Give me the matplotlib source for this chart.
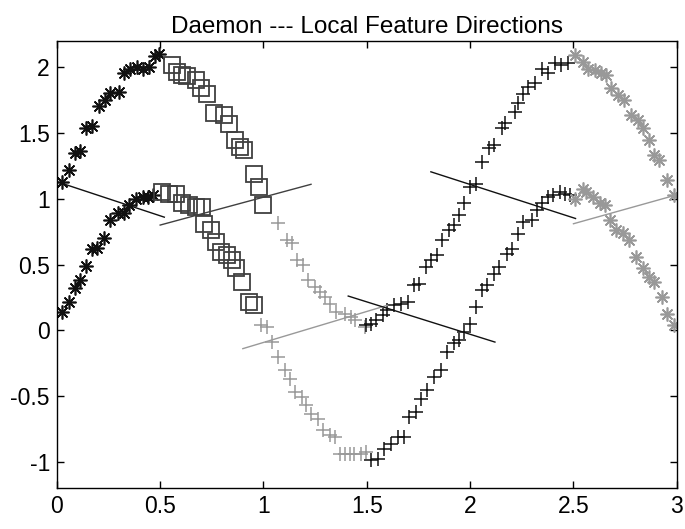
#!/usr/bin/env python3
"""Daemon --- local feature directions (two noisy sine sweeps, five segments)."""

import matplotlib
matplotlib.use("Agg")
import matplotlib.pyplot as plt

# ---- data ------------------------------------------------------------------
# segment 1: dark asterisks (0 .. 0.5)
seg1_x_up = [0.023, 0.058, 0.087, 0.114, 0.139, 0.170, 0.202, 0.231, 0.258, 0.300,
             0.327, 0.356, 0.386, 0.415, 0.444, 0.476, 0.492]
seg1_y_up = [1.13, 1.22, 1.345, 1.365, 1.54, 1.55, 1.705, 1.755, 1.806, 1.814,
             1.953, 1.99, 2.00, 1.984, 2.00, 2.085, 2.10]
seg1_x_lo = [0.026, 0.058, 0.087, 0.114, 0.143, 0.171, 0.196, 0.226, 0.258, 0.298,
             0.327, 0.351, 0.383, 0.415, 0.439, 0.463]
seg1_y_lo = [0.14, 0.215, 0.325, 0.38, 0.487, 0.616, 0.629, 0.698, 0.837, 0.893,
             0.888, 0.951, 1.002, 1.01, 1.01, 1.027]

# segment 2: dark-gray squares (0.5 .. 1)
seg2_x_up = [0.559, 0.583, 0.607, 0.631, 0.672, 0.696, 0.727, 0.760, 0.808, 0.832,
             0.864, 0.888, 0.904, 0.952, 0.976, 1.000]
seg2_y_up = [2.017, 1.966, 1.94, 1.93, 1.90, 1.84, 1.80, 1.65, 1.636, 1.57,
             1.446, 1.395, 1.37, 1.19, 1.09, 0.95]
seg2_x_lo = [0.511, 0.543, 0.575, 0.607, 0.640, 0.672, 0.703, 0.712, 0.744, 0.768,
             0.792, 0.824, 0.848, 0.867, 0.896, 0.928, 0.952]
seg2_y_lo = [1.05, 1.04, 1.04, 0.964, 0.95, 0.94, 0.94, 0.81, 0.76, 0.672,
             0.596, 0.571, 0.533, 0.47, 0.368, 0.215, 0.19]

# segment 3: light-gray plus signs (1 .. 1.5)
seg3_x_up = [1.072, 1.112, 1.136, 1.160, 1.192, 1.216, 1.248, 1.273, 1.297, 1.321,
             1.352, 1.393, 1.425, 1.441, 1.489]
seg3_y_up = [0.817, 0.685, 0.66, 0.533, 0.495, 0.38, 0.33, 0.29, 0.253, 0.203,
             0.14, 0.127, 0.10, 0.076, 0.025]
seg3_x_lo = [0.990, 1.016, 1.040, 1.072, 1.104, 1.128, 1.152, 1.184, 1.208, 1.232,
             1.264, 1.288, 1.321, 1.345, 1.369, 1.393, 1.417, 1.440, 1.473, 1.497]
seg3_y_lo = [0.04, 0.025, -0.089, -0.203, -0.30, -0.368, -0.47, -0.508, -0.571, -0.634,
             -0.672, -0.761, -0.80, -0.812, -0.94, -0.94, -0.94, -0.94, -0.94, -0.926]

# segment 4: black plus signs (1.5 .. 2.5)
seg4_x_up = [1.497, 1.521, 1.545, 1.577, 1.600, 1.633, 1.665, 1.697, 1.729, 1.753,
             1.785, 1.810, 1.841, 1.865, 1.898, 1.922, 1.946, 1.970, 2.000, 2.026,
             2.058, 2.090, 2.114, 2.154, 2.170, 2.218, 2.234, 2.258, 2.282, 2.314,
             2.346, 2.378, 2.410, 2.442, 2.474]
seg4_y_up = [0.038, 0.05, 0.076, 0.114, 0.152, 0.19, 0.203, 0.215, 0.342, 0.355,
             0.482, 0.533, 0.571, 0.685, 0.761, 0.80, 0.875, 0.964, 1.09, 1.115,
             1.28, 1.383, 1.41, 1.535, 1.573, 1.661, 1.725, 1.80, 1.852, 1.877,
             1.99, 1.953, 2.03, 2.017, 2.03]
seg4_x_lo = [1.521, 1.553, 1.585, 1.617, 1.649, 1.681, 1.705, 1.737, 1.761, 1.793,
             1.825, 1.857, 1.890, 1.922, 1.946, 1.970, 2.000, 2.026, 2.058, 2.082,
             2.114, 2.138, 2.178, 2.202, 2.234, 2.258, 2.298, 2.322, 2.346, 2.378,
             2.402, 2.434, 2.458, 2.482]
seg4_y_lo = [-0.99, -0.976, -0.90, -0.862, -0.812, -0.812, -0.66, -0.622, -0.52, -0.457,
             -0.355, -0.304, -0.165, -0.10, -0.076, -0.013, 0.05, 0.177, 0.304, 0.342,
             0.431, 0.482, 0.583, 0.621, 0.735, 0.824, 0.837, 0.913, 0.964, 1.014,
             1.027, 1.052, 1.04, 1.027]

# segment 5: light-gray asterisks (2.5 .. 3)
seg5_x_up = [2.506, 2.546, 2.570, 2.603, 2.635, 2.659, 2.683, 2.715, 2.747, 2.779,
             2.810, 2.835, 2.867, 2.890, 2.915, 2.955, 2.987]
seg5_y_up = [2.093, 2.04, 1.99, 1.98, 1.953, 1.94, 1.84, 1.788, 1.75, 1.636,
             1.598, 1.535, 1.446, 1.33, 1.294, 1.14, 1.027]
seg5_x_lo = [2.506, 2.546, 2.562, 2.595, 2.627, 2.651, 2.675, 2.707, 2.739, 2.771,
             2.803, 2.835, 2.867, 2.890, 2.930, 2.955, 2.987]
seg5_y_lo = [1.002, 1.078, 1.052, 1.014, 0.964, 0.951, 0.837, 0.761, 0.736, 0.685,
             0.558, 0.47, 0.406, 0.368, 0.253, 0.127, 0.038]

# local feature directions: (x0, x1), (y0, y1)
dir_x = [(0.00, 0.52), (0.50, 1.23), (0.90, 1.60), (1.41, 2.12), (1.81, 2.51), (2.50, 3.00)]
dir_y = [(1.13, 0.86), (0.80, 1.11), (-0.14, 0.19), (0.26, -0.09), (1.205, 0.85), (0.81, 1.03)]

DARK = "#111111"
MID = "#404040"
LIGHT = "#999999"
dir_colors = [DARK, MID, LIGHT, DARK, DARK, LIGHT]

ASTERISK = (8, 2, 0)


def main() -> None:
    plt.rcParams["font.family"] = ["Liberation Sans", "DejaVu Sans"]
    fig = plt.figure(figsize=(6.85, 5.29), dpi=100)
    ax = fig.add_axes([0.083, 0.0775, 0.905, 0.845])

    # marker, colour, size, edge width
    series = [
        (seg1_x_up, seg1_y_up, seg1_x_lo, seg1_y_lo, ASTERISK, DARK, 10, 1.2),
        (seg2_x_up, seg2_y_up, seg2_x_lo, seg2_y_lo, "s", MID, 11.5, 1.3),
        (seg3_x_up, seg3_y_up, seg3_x_lo, seg3_y_lo, "+", LIGHT, 10, 1.1),
        (seg4_x_up, seg4_y_up, seg4_x_lo, seg4_y_lo, "+", DARK, 10, 1.1),
        (seg5_x_up, seg5_y_up, seg5_x_lo, seg5_y_lo, ASTERISK, LIGHT, 10, 1.2),
    ]
    for xu, yu, xl, yl, mk, col, ms, mew in series:
        for xs, ys in ((xu, yu), (xl, yl)):
            ax.plot(xs, ys, linestyle="none", marker=mk, markersize=ms,
                    markerfacecolor="none", markeredgecolor=col, markeredgewidth=mew)

    for xs, ys, col in zip(dir_x, dir_y, dir_colors):
        ax.plot(xs, ys, color=col, linewidth=1.0)

    ax.set_xlim(0, 3)
    ax.set_ylim(-1.2, 2.2)
    ax.set_xticks([0, 0.5, 1, 1.5, 2, 2.5, 3])
    ax.set_xticklabels(["0", "0.5", "1", "1.5", "2", "2.5", "3"])
    ax.set_yticks([-1, -0.5, 0, 0.5, 1, 1.5, 2])
    ax.set_yticklabels(["-1", "-0.5", "0", "0.5", "1", "1.5", "2"])
    ax.tick_params(direction="in", top=True, right=True, length=5, width=1,
                   labelsize=16.5, colors="black", pad=5)
    for sp in ax.spines.values():
        sp.set_linewidth(1.0)
    ax.set_title("Daemon --- Local Feature Directions", fontsize=17.5, pad=6)

    fig.savefig("out.png", dpi=100)
    plt.close(fig)


if __name__ == "__main__":
    main()
